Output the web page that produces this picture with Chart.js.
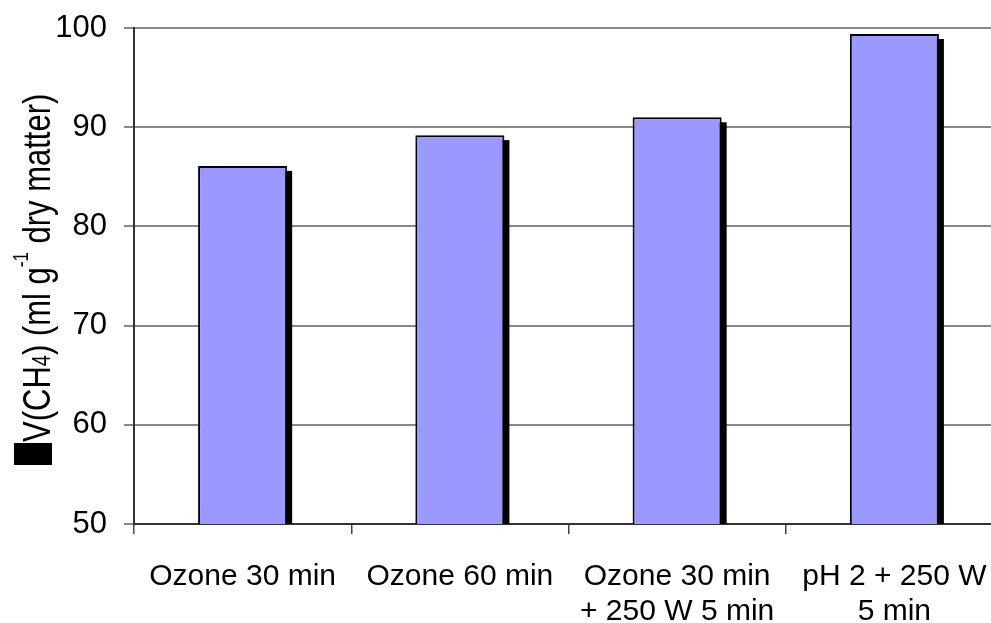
<!DOCTYPE html>
<html>
<head>
<meta charset="utf-8">
<script src="https://cdn.jsdelivr.net/npm/chart.js@4/dist/chart.umd.min.js"></script>
<style>
html,body{margin:0;padding:0;background:#fff;overflow:hidden;}
#wrap{position:absolute;left:0;top:0;width:1003px;height:623px;}
</style>
</head>
<body>
<div id="wrap"><canvas id="c" width="1003" height="623"></canvas></div>
<script>
const categories = [
  ["Ozone 30 min"],
  ["Ozone 60 min"],
  ["Ozone 30 min", "+ 250 W 5 min"],
  ["pH 2 + 250 W", "5 min"]
];
const methaneYield = [86.1, 89.2, 91.0, 99.4];
const yTicks = [50, 60, 70, 80, 90, 100];

const FONT = "'Liberation Sans', Arial, sans-serif";

const shadowPlugin = {
  id: 'barShadow',
  beforeDatasetsDraw(chart) {
    const ctx = chart.ctx;
    const meta = chart.getDatasetMeta(0);
    const base = chart.scales.y.getPixelForValue(50);
    ctx.save();
    ctx.fillStyle = '#000';
    meta.data.forEach(bar => {
      const w = bar.width;
      const left = bar.x - w / 2 + 5;
      const top = bar.y + 5;
      ctx.fillRect(left, top, w, base - top);
    });
    ctx.restore();
  }
};

const titlePlugin = {
  id: 'yTitle',
  afterDraw(chart) {
    const ctx = chart.ctx;
    ctx.save();
    ctx.fillStyle = '#000';
    ctx.fillRect(14, 443, 38, 22);
    ctx.translate(50, 442);
    ctx.rotate(-Math.PI / 2);
    ctx.scale(1, 1.25);
    ctx.textBaseline = 'alphabetic';
    ctx.textAlign = 'left';
    const big = '31px ' + FONT;
    const sub = '20px ' + FONT;
    const sup = '17px ' + FONT;
    const parts = [
      {t: 'V(CH', f: big, dy: 0},
      {t: '4', f: sub, dy: 0},
      {t: ') (ml g', f: big, dy: 0},
      {t: '-1', f: sup, dy: -18},
      {t: ' dry matter)', f: big, dy: 0}
    ];
    let x = 0;
    parts.forEach(p => {
      ctx.font = p.f;
      ctx.fillText(p.t, x, p.dy);
      x += ctx.measureText(p.t).width;
    });
    ctx.restore();
  }
};

new Chart(document.getElementById('c'), {
  type: 'bar',
  data: {
    labels: categories,
    datasets: [{
      data: methaneYield,
      backgroundColor: '#9999FF',
      borderColor: '#000',
      borderWidth: 2,
      borderSkipped: 'bottom',
      categoryPercentage: 1,
      barPercentage: 0.41
    }]
  },
  options: {
    responsive: false,
    animation: false,
    events: [],
    layout: {padding: {top: 28, right: 0, left: 0, bottom: 0}},
    plugins: {legend: {display: false}, tooltip: {enabled: false}},
    scales: {
      x: {
        offset: true,
        grid: {
          offset: true,
          drawOnChartArea: false,
          drawTicks: true,
          tickLength: 10,
          color: '#444',
          lineWidth: 1.5
        },
        border: {display: true, color: '#333', width: 2},
        ticks: {
          color: '#000',
          font: {family: FONT, size: 30, lineHeight: 1.17},
          padding: 25,
          maxRotation: 0,
          autoSkip: false
        },
        afterFit(scale) {
          scale.height = 99;
          scale.paddingLeft = 0;
          scale.paddingRight = 0;
        }
      },
      y: {
        min: 50,
        max: 100,
        afterBuildTicks(scale) { scale.ticks = yTicks.map(v => ({value: v})); },
        grid: {
          color: '#888',
          lineWidth: 2,
          drawTicks: true,
          tickLength: 10
        },
        border: {display: true, color: '#333', width: 2},
        ticks: {
          color: '#000',
          font: {family: FONT, size: 31},
          padding: 17
        },
        afterFit(scale) {
          scale.width = 134;
          scale.paddingTop = 0;
          scale.paddingBottom = 0;
        }
      }
    }
  },
  plugins: [shadowPlugin, titlePlugin]
});
</script>
</body>
</html>
